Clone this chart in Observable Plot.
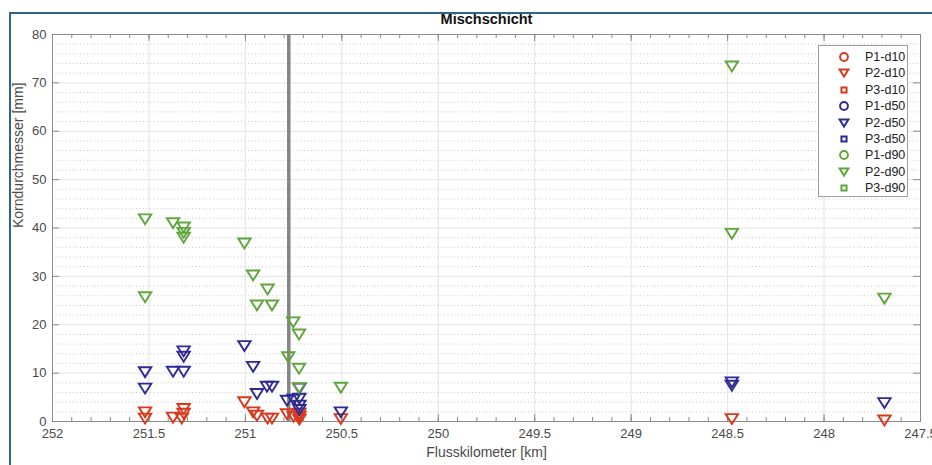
<!DOCTYPE html>
<html>
<head>
<meta charset="utf-8">
<script src="https://cdn.jsdelivr.net/npm/d3@7"></script>
<script src="https://cdn.jsdelivr.net/npm/@observablehq/plot@0.6"></script>
<style>
  html, body { margin: 0; padding: 0; background: #fff; }
  #wrap { position: relative; width: 932px; height: 465px; overflow: hidden; font-family: "Liberation Sans", Arial, sans-serif; }
  #borderTop { position: absolute; left: 9px; top: 12px; width: 923px; height: 2px; background: #2f6584; }
  #borderLeft { position: absolute; left: 9px; top: 12px; width: 2px; height: 453px; background: #2f6584; }
  #legend { position: absolute; left: 818px; top: 45px; width: 90px; height: 152px; border: 1px solid #a0a0a0; background: #fff; box-sizing: border-box; }
  .lg-row { position: absolute; left: 0; height: 16px; width: 88px; }
  .lg-row svg { position: absolute; left: 17px; top: 0; }
  .lg-row span { position: absolute; left: 46px; top: 0; line-height: 16px; font-size: 12.5px; color: #222; }
</style>
</head>
<body>
<div id="wrap">
  <div id="chart"></div>
  <div id="borderTop"></div>
  <div id="borderLeft"></div>
  <div id="legend"></div>
</div>
<script>
// ---- Data ----
const title = "Mischschicht";
const xLabel = "Flusskilometer [km]";
const yLabel = "Korndurchmesser [mm]";
const xTicks = [252, 251.5, 251, 250.5, 250, 249.5, 249, 248.5, 248, 247.5];
const yTicks = [0, 10, 20, 30, 40, 50, 60, 70, 80];
const markerKm = 250.775;

const seriesNames = ["P1-d10", "P2-d10", "P3-d10", "P1-d50", "P2-d50", "P3-d50", "P1-d90", "P2-d90", "P3-d90"];

// P2-d10
const p2d10Km  = [251.52, 251.52, 251.375, 251.32, 251.32, 251.33, 251.005, 250.96, 250.94, 250.885, 250.862, 250.784, 250.75, 250.72, 250.72, 250.72, 250.505, 248.478, 247.687];
const p2d10Val = [1.9, 0.6, 0.8, 2.6, 1.6, 0.6, 4.0, 1.9, 1.2, 0.6, 0.6, 1.5, 1.0, 1.6, 1.0, 0.4, 0.5, 0.5, 0.2];
// P2-d50
const p2d50Km  = [251.52, 251.52, 251.375, 251.32, 251.32, 251.32, 251.005, 250.96, 250.94, 250.888, 250.862, 250.784, 250.75, 250.72, 250.72, 250.72, 250.72, 250.505, 248.478, 248.478, 247.687];
const p2d50Val = [10.2, 6.8, 10.3, 14.5, 13.4, 10.3, 15.6, 11.3, 5.7, 7.2, 7.2, 4.3, 4.5, 6.8, 4.7, 3.3, 2.4, 1.9, 8.1, 7.4, 3.8];
// P2-d90
const p2d90Km  = [251.52, 251.52, 251.375, 251.32, 251.32, 251.32, 251.005, 250.96, 250.94, 250.885, 250.862, 250.778, 250.752, 250.722, 250.722, 250.722, 250.505, 248.478, 248.478, 247.687];
const p2d90Val = [41.8, 25.7, 41.0, 40.1, 39.0, 38.0, 36.8, 30.2, 24.0, 27.3, 24.0, 13.3, 20.5, 18.0, 10.9, 6.9, 7.0, 73.4, 38.8, 25.4];

// ---- Styles ----
const colors = {d10: "#d8381c", d50: "#2e2a92", d90: "#5ea63b"};
const W = 932, H = 465;
const mL = 52, mR = 12, mT = 34, mB = 44;
const plotH = H - mT - mB, plotW = W - mL - mR;
const yPerPx = 80 / plotH;
const xPerPx = 4.5 / plotW;

const triDown = {
  draw(context, size) {
    const r = Math.sqrt(size / Math.PI);
    context.moveTo(-r, -0.8 * r);
    context.lineTo(r, -0.8 * r);
    context.lineTo(0, 0.8 * r);
    context.closePath();
  }
};

const toRows = (kms, vals, key) => kms.map((k, i) => ({km: k, v: vals[i], key}));
const d10 = toRows(p2d10Km, p2d10Val, "d10");
const d50 = toRows(p2d50Km, p2d50Val, "d50");
const d90 = toRows(p2d90Km, p2d90Val, "d90");

const minorX = d3.range(0, 46).map(i => +(252 - i * 0.1).toFixed(1));
const minorY = d3.range(0, 81, 2).filter(v => v % 10 !== 0);

const majLen = 7, minLen = 4;

const chart = Plot.plot({
  width: W, height: H,
  marginLeft: mL, marginRight: mR, marginTop: mT, marginBottom: mB,
  style: {fontFamily: "'Liberation Sans', Arial, sans-serif", background: "transparent"},
  x: {domain: [252, 247.5], ticks: xTicks, tickFormat: d => String(d)},
  y: {domain: [0, 80], ticks: yTicks},
  marks: [
    // grids
    Plot.ruleY(minorY, {stroke: "#c8c8c8", strokeDasharray: "1,2.5", strokeWidth: 1}),
    Plot.ruleY(yTicks, {stroke: "#e3e3e3", strokeWidth: 1}),
    Plot.ruleX(xTicks, {stroke: "#e3e3e3", strokeWidth: 1}),
    // axes labels
    Plot.axisX(xTicks, {tickSize: 0, tickPadding: 7, fontSize: 13, color: "#4a4a4a", label: null, tickFormat: d => String(d)}),
    Plot.axisY(yTicks, {tickSize: 0, tickPadding: 6, fontSize: 13, color: "#4a4a4a", label: null}),
    // tick marks (inward)
    Plot.ruleX(minorX, {y1: 0, y2: minLen * yPerPx, stroke: "#8a8a8a"}),
    Plot.ruleX(minorX, {y1: 80, y2: 80 - minLen * yPerPx, stroke: "#8a8a8a"}),
    Plot.ruleX(xTicks, {y1: 0, y2: majLen * yPerPx, stroke: "#8a8a8a"}),
    Plot.ruleX(xTicks, {y1: 80, y2: 80 - majLen * yPerPx, stroke: "#8a8a8a"}),
    Plot.ruleY(yTicks, {x1: 252, x2: 252 - majLen * xPerPx, stroke: "#8a8a8a"}),
    Plot.ruleY(yTicks, {x1: 247.5, x2: 247.5 + majLen * xPerPx, stroke: "#8a8a8a"}),
    Plot.frame({stroke: "#8a8a8a", strokeWidth: 1}),
    // vertical marker line
    Plot.ruleX([markerKm], {stroke: "#858585", strokeWidth: 3.5}),
    // data
    Plot.dot(d10, {x: "km", y: "v", stroke: colors.d10, symbol: triDown, r: 6.2, strokeWidth: 1.9, fill: "none"}),
    Plot.dot(d50, {x: "km", y: "v", stroke: colors.d50, symbol: triDown, r: 6.2, strokeWidth: 1.9, fill: "none"}),
    Plot.dot(d90, {x: "km", y: "v", stroke: colors.d90, symbol: triDown, r: 6.2, strokeWidth: 1.9, fill: "none"}),
    // texts
    Plot.text([title], {frameAnchor: "top", dy: -15, fontSize: 14.5, fontWeight: "bold", fill: "#111", lineAnchor: "middle"}),
    Plot.text([xLabel], {frameAnchor: "bottom", dy: 31, fontSize: 14, fill: "#4a4a4a", lineAnchor: "middle"}),
    Plot.text([yLabel], {frameAnchor: "left", dx: -34, rotate: -90, fontSize: 14, fill: "#4a4a4a", lineAnchor: "middle"})
  ]
});
document.getElementById("chart").appendChild(chart);

// ---- Legend ----
const legend = d3.select("#legend");
const symFor = {P1: d3.symbolCircle, P2: triDown, P3: d3.symbolSquare};
const sizeFor = {P1: 48, P2: 60, P3: 26};
seriesNames.forEach((name, i) => {
  const [p, d] = name.split("-");
  const row = legend.append("div").attr("class", "lg-row").style("top", (3 + i * 16.4) + "px");
  const svg = row.append("svg").attr("width", 16).attr("height", 16);
  svg.append("path")
    .attr("transform", "translate(8,8)")
    .attr("d", d3.symbol(symFor[p], sizeFor[p])())
    .attr("fill", "none")
    .attr("stroke", colors[d])
    .attr("stroke-width", 2);
  row.append("span").text(name);
});
</script>
</body>
</html>
